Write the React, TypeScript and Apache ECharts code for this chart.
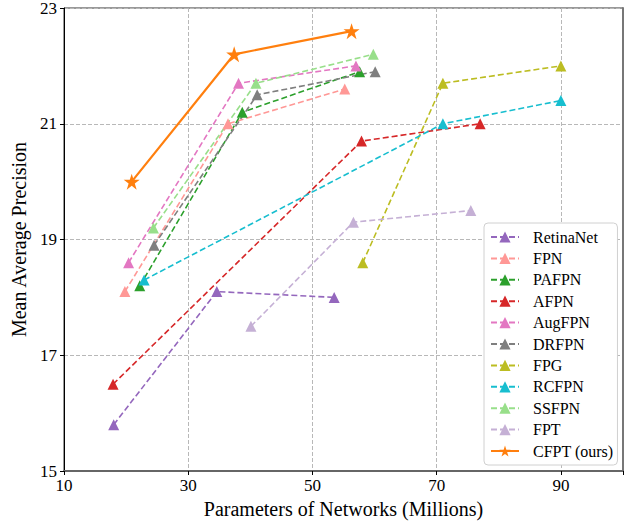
import React, { useEffect, useRef } from "react";
import * as echarts from "echarts";

const seriesNames = ["RetinaNet", "FPN", "PAFPN", "AFPN", "AugFPN", "DRFPN", "FPG", "RCFPN", "SSFPN", "FPT", "CFPT (ours)"];
const colors = ["#9467bd", "#ff9896", "#2ca02c", "#d62728", "#e377c2", "#7f7f7f", "#bcbd22", "#17becf", "#98df8a", "#c5b0d5", "#ff7f0e"];

const retinaNet = [[18.0, 15.8], [34.6, 18.1], [53.5, 18.0]];
const fpn = [[19.8, 18.1], [36.4, 21.0], [55.2, 21.6]];
const pafpn = [[22.2, 18.2], [38.7, 21.2], [57.6, 21.9]];
const afpn = [[17.9, 16.5], [57.9, 20.7], [77.0, 21.0]];
const augfpn = [[20.4, 18.6], [38.1, 21.7], [57.0, 22.0]];
const drfpn = [[24.5, 18.9], [41.1, 21.5], [60.1, 21.9]];
const fpg = [[58.1, 18.6], [71.0, 21.7], [90.0, 22.0]];
const rcfpn = [[22.9, 18.3], [71.0, 21.0], [90.0, 21.4]];
const ssfpn = [[24.4, 19.2], [40.9, 21.7], [59.8, 22.2]];
const fpt = [[40.1, 17.5], [56.6, 19.3], [75.5, 19.5]];
const cfpt = [[20.9, 20.0], [37.4, 22.2], [56.3, 22.6]];

const allData = [retinaNet, fpn, pafpn, afpn, augfpn, drfpn, fpg, rcfpn, ssfpn, fpt, cfpt];

const STAR = "path://M50,0 L61.8,35.3 L98.9,35.3 L68.9,57.1 L80.3,92.7 L50,70.6 L19.7,92.7 L31.1,57.1 L1.1,35.3 L38.2,35.3 Z";

const FONT = "'Liberation Serif', 'Times New Roman', serif";

export default function App() {
  const ref = useRef<HTMLDivElement>(null);
  useEffect(() => {
    if (!ref.current) return;
    const chart = echarts.init(ref.current, undefined, { renderer: "svg" });
    const series: any[] = allData.map((d, i) => {
      const isOurs = i === allData.length - 1;
      return {
        name: seriesNames[i],
        type: "line",
        data: d,
        symbol: isOurs ? STAR : "triangle",
        symbolSize: isOurs ? 16 : 11,
        itemStyle: { color: colors[i] },
        lineStyle: {
          color: colors[i],
          width: isOurs ? 2.2 : 1.6,
          type: isOurs ? "solid" : [6, 3],
        },
        z: isOurs ? 5 : 3,
      };
    });
    chart.setOption({
      animation: false,
      backgroundColor: "#ffffff",
      textStyle: { fontFamily: FONT },
      grid: {
        left: 64,
        right: 9,
        top: 8,
        bottom: 52,
        containLabel: false,
        outerBoundsMode: "none",
        show: true,
        borderColor: "#333",
        borderWidth: 1,
      },
      legend: {
        orient: "vertical",
        left: 484,
        top: 223,
        itemWidth: 28,
        itemHeight: 14,
        itemGap: 5.4,
        padding: [6, 4, 6, 6],
        backgroundColor: "#ffffff",
        borderColor: "#d0d0d0",
        borderWidth: 1,
        borderRadius: 4,
        textStyle: { fontFamily: FONT, fontSize: 16, color: "#000", padding: [0, 0, 0, 9] },
        data: seriesNames,
      },
      xAxis: {
        type: "value",
        min: 10,
        max: 100,
        interval: 20,
        name: "Parameters of Networks (Millions)",
        nameLocation: "middle",
        nameGap: 26,
        nameTextStyle: { fontFamily: FONT, fontSize: 20, color: "#000" },
        axisLine: { show: true, lineStyle: { color: "#666", width: 2 } },
        axisTick: { show: true, length: 4, lineStyle: { color: "#000" } },
        axisLabel: {
          fontFamily: FONT,
          fontSize: 17,
          color: "#000",
          margin: 6,
          formatter: (v: number) => (v === 100 ? "" : String(v)),
        },
        splitLine: { show: true, lineStyle: { color: "#b8b8b8", type: [4, 2], width: 1 } },
      },
      yAxis: [
        {
          type: "value",
          min: 15,
          max: 23,
          interval: 2,
          name: "Mean Average Precision",
          nameLocation: "middle",
          nameGap: 29,
          nameTextStyle: { fontFamily: FONT, fontSize: 20, color: "#000" },
          axisLine: { show: true, lineStyle: { color: "#000", width: 1 } },
          axisTick: { show: true, length: 4, lineStyle: { color: "#000" } },
          axisLabel: { fontFamily: FONT, fontSize: 17, color: "#000", margin: 7 },
          splitLine: { show: true, lineStyle: { color: "#b8b8b8", type: [4, 2], width: 1 } },
        },
        {
          type: "value",
          position: "right",
          min: 15,
          max: 23,
          interval: 2,
          axisLine: { show: true, lineStyle: { color: "#777", width: 2 } },
          axisTick: { show: false },
          axisLabel: { show: false },
          splitLine: { show: false },
        },
      ],
      series,
    });
    return () => chart.dispose();
  }, []);
  return (
    <div
      ref={ref}
      style={{ position: "absolute", left: 0, top: 0, width: 632, height: 523 }}
    />
  );
}
